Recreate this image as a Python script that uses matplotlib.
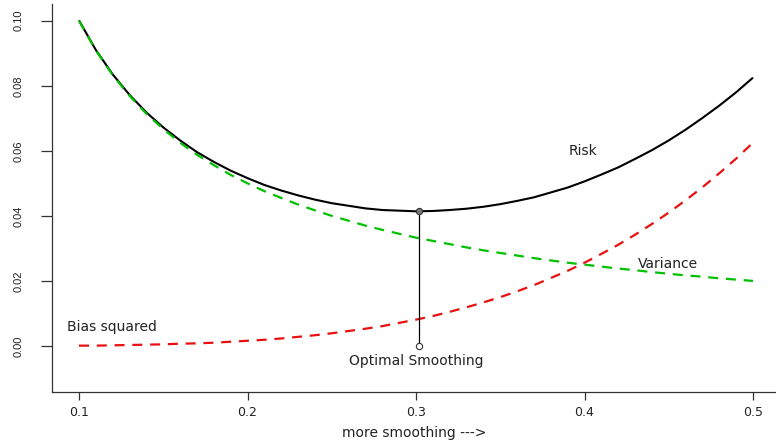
import matplotlib
matplotlib.use("Agg")
import matplotlib.pyplot as plt

plt.rcParams['font.family'] = ['DejaVu Sans']

# bandwidth grid and the three error components
h = [0.10, 0.11, 0.12, 0.13, 0.14, 0.15, 0.16, 0.17, 0.18, 0.19,
     0.20, 0.21, 0.22, 0.23, 0.24, 0.25, 0.26, 0.27, 0.28, 0.29,
     0.30, 0.31, 0.32, 0.33, 0.34, 0.35, 0.36, 0.37, 0.38, 0.39,
     0.40, 0.41, 0.42, 0.43, 0.44, 0.45, 0.46, 0.47, 0.48, 0.49, 0.50]

variance = [0.1000, 0.0909, 0.0833, 0.0769, 0.0714, 0.0667, 0.0625, 0.0588, 0.0556, 0.0526,
            0.0500, 0.0476, 0.0455, 0.0435, 0.0417, 0.0400, 0.0385, 0.0370, 0.0357, 0.0345,
            0.0333, 0.0323, 0.0313, 0.0303, 0.0294, 0.0286, 0.0278, 0.0270, 0.0263, 0.0256,
            0.0250, 0.0244, 0.0238, 0.0233, 0.0227, 0.0222, 0.0217, 0.0213, 0.0208, 0.0204,
            0.0200]

bias_sq = [0.0001, 0.0001, 0.0002, 0.0003, 0.0004, 0.0005, 0.0007, 0.0008, 0.0010, 0.0013,
           0.0016, 0.0019, 0.0023, 0.0028, 0.0033, 0.0039, 0.0046, 0.0053, 0.0061, 0.0071,
           0.0081, 0.0092, 0.0105, 0.0119, 0.0134, 0.0150, 0.0168, 0.0187, 0.0209, 0.0231,
           0.0256, 0.0283, 0.0311, 0.0342, 0.0375, 0.0410, 0.0448, 0.0488, 0.0531, 0.0576,
           0.0625]

risk = [0.1001, 0.0910, 0.0835, 0.0772, 0.0718, 0.0672, 0.0632, 0.0596, 0.0566, 0.0539,
        0.0516, 0.0495, 0.0478, 0.0463, 0.0450, 0.0439, 0.0431, 0.0423, 0.0418, 0.0416,
        0.0414, 0.0415, 0.0418, 0.0422, 0.0428, 0.0436, 0.0446, 0.0457, 0.0472, 0.0487,
        0.0506, 0.0527, 0.0549, 0.0575, 0.0602, 0.0632, 0.0665, 0.0701, 0.0739, 0.0780,
        0.0825]

opt_h = 0.302
opt_risk = 0.0414

x_ticks = [0.1, 0.2, 0.3, 0.4, 0.5]
x_tick_labels = ["0.1", "0.2", "0.3", "0.4", "0.5"]
y_ticks = [0.00, 0.02, 0.04, 0.06, 0.08, 0.10]
y_tick_labels = ["0.00", "0.02", "0.04", "0.06", "0.08", "0.10"]

W, H = 776, 446
fig = plt.figure(figsize=(W / 100, H / 100), dpi=100)
ax = fig.add_axes([52 / W, (H - 392) / H, (W - 52) / W, (392 - 4) / H])

green = "#00C000"
red = "#E81010"
ink = "#222222"

ax.plot(h, risk, color="black", lw=1.5, solid_capstyle="butt")
ax.plot(h, variance, color=green, lw=1.6, dashes=(4.5, 3.5))
ax.plot(h, bias_sq, color=red, lw=1.6, dashes=(4.5, 3.5))

# optimal bandwidth marker
ax.plot([opt_h, opt_h], [0, opt_risk], color="black", lw=0.9)
ax.plot([opt_h], [opt_risk], marker="o", ms=4.5, mfc="#777777", mec="#333333", mew=0.8)
ax.plot([opt_h], [0], marker="o", ms=4.5, mfc="white", mec="#333333", mew=0.8)

fs = 10
ax.text(0.399, 0.0600, "Risk", ha="center", va="center", fontsize=fs, color=ink)
ax.text(0.4496, 0.0252, "Variance", ha="center", va="center", fontsize=fs, color=ink)
ax.text(0.1196, 0.0058, "Bias squared", ha="center", va="center", fontsize=fs, color=ink)
ax.text(0.300, -0.0045, "Optimal Smoothing", ha="center", va="center", fontsize=fs, color=ink)

ax.set_xlim(0.1 - 27 / 1685, 0.5 + 23 / 1685)
ax.set_ylim(-46 / 3250, 0.10 + 16.7 / 3250)

ax.set_xticks(x_ticks)
ax.set_xticklabels(x_tick_labels, fontsize=9)
ax.set_yticks(y_ticks)
ax.set_yticklabels(y_tick_labels, fontsize=8, rotation=90, va="center",
                   family="Liberation Sans")
ax.tick_params(axis="both", direction="out", width=0.9, color="#333333", labelcolor=ink)
ax.tick_params(axis="x", length=6, pad=4)
ax.tick_params(axis="y", length=8, pad=12.5)
ax.set_xlabel("more smoothing --->", fontsize=fs, color=ink, labelpad=5)

for side in ("top", "right"):
    ax.spines[side].set_visible(False)
for side in ("left", "bottom"):
    ax.spines[side].set_color("#333333")
    ax.spines[side].set_linewidth(0.9)

fig.savefig("out.png", dpi=100)
